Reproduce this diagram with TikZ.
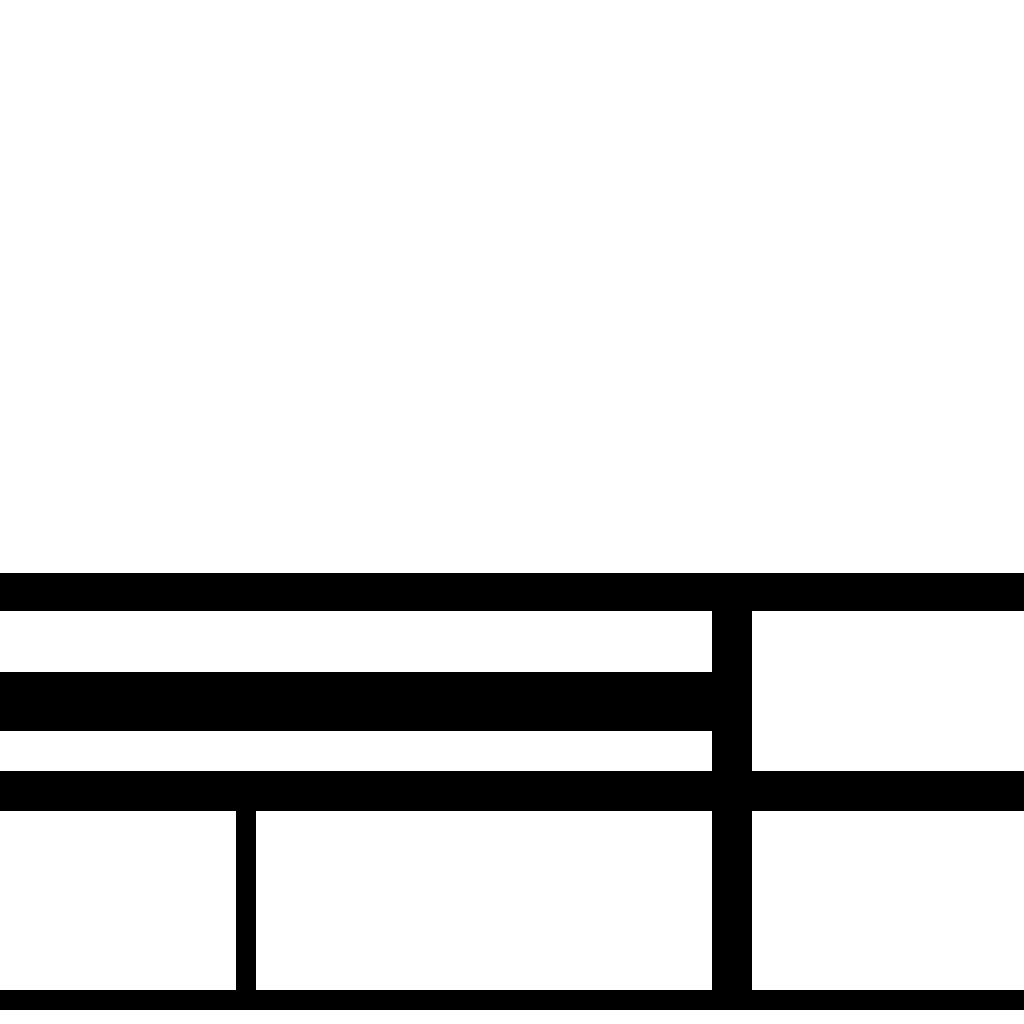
\documentclass[tikz,border=0pt]{standalone}
\usepackage{tikz}
\usetikzlibrary{positioning}
\tikzstyle{bar}=[fill=black, draw=none]
\tikzstyle{bg}=[fill=white, draw=none]

\begin{document}
\begin{tikzpicture}[x=0.01cm, y=-0.01cm]
                \path[bg] (0,0) rectangle (1024,1024);
                \useasboundingbox (0,0) rectangle (1024,1024);
                % horizontal bars
                \fill[bar] (0,573) rectangle (1024,611);
                \fill[bar] (0,672) rectangle (712,731);
                \fill[bar] (0,771) rectangle (1024,811);
                \fill[bar] (0,990) rectangle (1024,1010);
                % vertical bars
                \fill[bar] (712,611) rectangle (752,990);
                \fill[bar] (236,811) rectangle (256,990);
            \end{tikzpicture}
\end{document}
